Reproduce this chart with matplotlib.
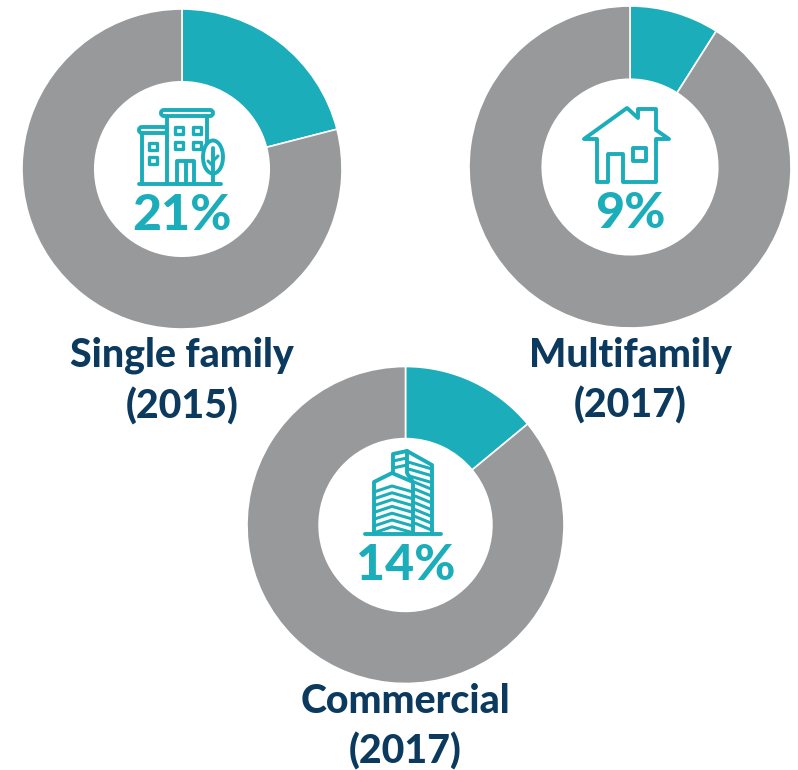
import matplotlib
matplotlib.use('Agg')
import matplotlib.pyplot as plt
from matplotlib.patches import FancyBboxPatch, Rectangle, Polygon, Ellipse

W, H = 798, 770

# Data
labels = ['Single family\n(2015)', 'Multifamily\n(2017)', 'Commercial\n(2017)']
shares = [21, 9, 14]
pct_labels = ['21%', '9%', '14%']

# Layout in pixels: center x, center y, radius
centers = [(182, 169, 160), (630, 167, 161), (405.5, 525, 158.5)]
label_pos = [(182, 381), (630, 381), (405.5, 727)]
pct_pos = [(182, 215), (630, 213), (406, 566)]

TEAL = '#1cadba'
GREY = '#98999b'
NAVY = '#0b3a5e'

plt.rcParams['font.family'] = ['Lato', 'DejaVu Sans']

fig = plt.figure(figsize=(W / 100, H / 100), dpi=100)

# Donuts
for (cx, cy, r), share in zip(centers, shares):
    ax = fig.add_axes([(cx - r) / W, 1 - (cy + r) / H, 2 * r / W, 2 * r / H])
    ax.pie([share, 100 - share], colors=[TEAL, GREY], startangle=90, counterclock=False,
           radius=1, wedgeprops=dict(width=0.455, edgecolor='white', linewidth=1.2))
    ax.set_xlim(-1, 1)
    ax.set_ylim(-1, 1)

# Overlay in pixel coordinates for text and icons
ov = fig.add_axes([0, 0, 1, 1])
ov.set_xlim(0, W)
ov.set_ylim(H, 0)
ov.axis('off')
ov.patch.set_alpha(0)

for (x, y), t in zip(pct_pos, pct_labels):
    ov.text(x, y, t, color=TEAL, fontsize=36, fontweight='black', ha='center', va='center')
for (x, y), t in zip(label_pos, labels):
    ov.text(x, y, t, color=NAVY, fontsize=28.3, fontweight='black', ha='center', va='center',
            linespacing=1.4)

lw = 2.8


def line(pts, w=lw):
    xs, ys = zip(*pts)
    ov.plot(xs, ys, color=TEAL, lw=w, solid_capstyle='round', solid_joinstyle='round')


def box(x, y, w, h, lw_=lw):
    ov.add_patch(Rectangle((x, y), w, h, fill=False, ec=TEAL, lw=lw_, joinstyle='round'))


# Apartment icon
ov.add_patch(FancyBboxPatch((161, 110), 52, 6, boxstyle='round,pad=0,rounding_size=3',
                            fill=False, ec=TEAL, lw=lw))
ov.add_patch(FancyBboxPatch((139, 127), 28, 6, boxstyle='round,pad=0,rounding_size=3',
                            fill=False, ec=TEAL, lw=lw))
line([(167, 116), (167, 184)])
line([(207, 116), (207, 143)])
line([(142, 133), (142, 184)])
line([(139, 184), (221, 184)])
for x, y in [(175, 127), (193, 127), (175, 142), (193, 142), (149, 143), (149, 157)]:
    box(x, y, 8, 7, 2.4)
line([(177, 184), (177, 161), (194, 161), (194, 184)])
line([(186, 161), (186, 184)])
ov.add_patch(Ellipse((213, 157), 20, 33, fill=False, ec=TEAL, lw=lw))
line([(213, 148), (213, 184)])
line([(213, 161), (218, 156)], 2.2)
line([(213, 166), (208, 161)], 2.2)

# House icon
house = [(584, 139), (627, 108), (638, 118), (638, 109), (656, 109), (656, 130), (669, 139),
         (656, 139), (656, 182), (623, 182), (623, 154), (608, 154), (608, 182), (597, 182),
         (597, 139)]
ov.add_patch(Polygon(house, closed=True, fill=False, ec=TEAL, lw=lw, joinstyle='round'))
box(633, 148, 13, 13)

# Office tower icon
line([(365, 534), (441, 534)])
line([(374, 534), (374, 482), (392, 473), (413, 482), (413, 534)])
line([(393, 473), (393, 454), (407, 451), (432, 465), (432, 534)])
line([(407, 451), (407, 473), (413, 482)])
line([(393, 461), (407, 458)], 2.2)
line([(393, 468), (407, 465)], 2.2)
for i in range(7):
    y0 = 489 + i * 6.8
    line([(374, y0 + 3), (392, y0 - 3), (413, y0 + 3)], 2.2)
for i in range(10):
    y0 = 465 + i * 6.8
    line([(408 if i < 3 else 415, y0 - 3), (432, y0 + 4)], 2.2)

fig.savefig('out.png', dpi=100, facecolor='white')
